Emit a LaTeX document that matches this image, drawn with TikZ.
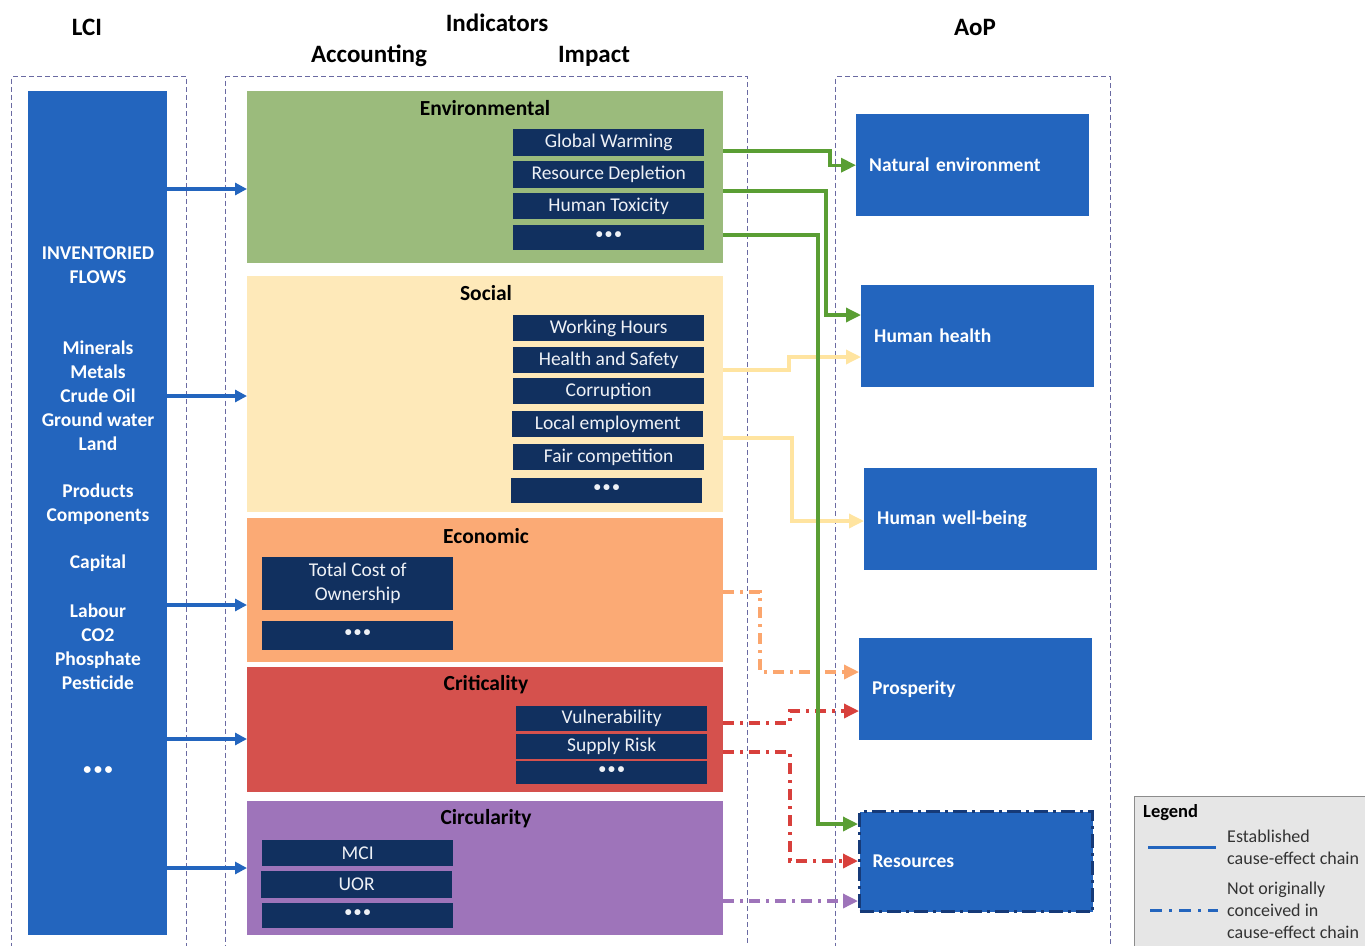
\documentclass[tikz,border=0pt]{standalone}
\usepackage{fontspec}
\setmainfont{Carlito}
\usetikzlibrary{arrows.meta,calc}
\definecolor{lciblue}{HTML}{2365BE}
\definecolor{navy}{HTML}{11305F}
\definecolor{itemtxt}{HTML}{EEF1F6}
\definecolor{envg}{HTML}{9BBB7C}
\definecolor{socy}{HTML}{FEE9B9}
\definecolor{ecoo}{HTML}{FBAA75}
\definecolor{critr}{HTML}{D5514D}
\definecolor{circp}{HTML}{9E74BA}
\definecolor{lineg}{HTML}{5A9E34}
\definecolor{liney}{HTML}{FFE4A0}
\definecolor{lineo}{HTML}{FBA66E}
\definecolor{liner}{HTML}{D8403C}
\definecolor{linep}{HTML}{9E74BA}
\definecolor{contdash}{HTML}{6A6AA2}
\definecolor{resborder}{HTML}{163A78}
\definecolor{leggray}{HTML}{E6E6E6}
\definecolor{legborder}{HTML}{8C8C8C}
\begin{document}
\begin{tikzpicture}[x=1pt,y=-1pt,
  heading/.style={font=\fontsize{25}{30}\selectfont\bfseries, inner sep=0},
  container/.style={draw=contdash, dash pattern=on 5pt off 3pt, line width=1pt, anchor=north west, inner sep=0},
  cat/.style={anchor=north west, inner sep=0, minimum width=476pt},
  cattitle/.style={font=\fontsize{21.5}{24}\selectfont\bfseries, inner sep=0},
  item/.style={fill=navy, text=itemtxt, anchor=north west, inner sep=0, minimum width=191pt, align=center, font=\fontsize{19.5}{24}\selectfont},
  dots/.style={item, font=\fontsize{14}{14}\selectfont\bfseries},
  lcitext/.style={text=white, align=center, inner sep=0, font=\fontsize{19.5}{24}\selectfont\bfseries},
  aop/.style={fill=lciblue, text=white, anchor=north west, inner xsep=13pt, inner ysep=0, minimum width=233pt, minimum height=102pt, text width=207pt, align=left, font=\fontsize{19.5}{24}\selectfont\bfseries},
  blarrow/.style={draw=lciblue, line width=3.2pt, -{Triangle[length=12pt,width=12pt]}},
  conn/.style={line width=3.4pt, -{Triangle[length=15pt,width=14pt]}},
  dashdot/.style={dash pattern=on 11pt off 6pt on 3pt off 6pt},
  legtext/.style={font=\fontsize{18}{22}\selectfont, align=left, anchor=west, inner sep=0, text=black!80}
]
\useasboundingbox (0,0) rectangle (1365,945);

% headings
\node[heading] (hlci) at (87,27) {LCI};
\node[heading] (hind) at (497,23) {Indicators};
\node[heading] (hacc) at (369,56) {Accounting};
\node[heading] (himp) at (594,56) {Impact};
\node[heading] (haop) at (975,27) {AoP};

% dashed containers
\node[container, minimum width=175pt, minimum height=880pt] (clci) at (11,76) {};
\node[container, minimum width=522pt, minimum height=880pt] (cind) at (225,76) {};
\node[container, minimum width=275pt, minimum height=880pt] (caop) at (835,76) {};

% LCI box
\node[fill=lciblue, anchor=north west, inner sep=0, minimum width=139pt, minimum height=844pt] (lci) at (28,91) {};
\node[lcitext] (l1) at (98,265) {INVENTORIED\\FLOWS};
\node[lcitext] (l2) at (98,396) {Minerals\\Metals\\Crude Oil\\Ground water\\Land};
\node[lcitext] (l3) at (98,504) {Products\\Components};
\node[lcitext] (l4) at (98,563) {Capital};
\node[lcitext] (l5) at (98,647) {Labour\\CO2\\Phosphate\\Pesticide};
\node[lcitext, font=\fontsize{16}{16}\selectfont\bfseries] (l6) at (98,771) {•\,•\,•};

% categories
\node[cat, fill=envg, minimum height=172pt] (env) at (247,91) {};
\node[cattitle] (envt) at (485,108) {Environmental};
\node[cat, fill=socy, minimum height=236pt] (soc) at (247,276) {};
\node[cattitle] (soct) at (486,293) {Social};
\node[cat, fill=ecoo, minimum height=144pt] (eco) at (247,518) {};
\node[cattitle] (ecot) at (486,536) {Economic};
\node[cat, fill=critr, minimum height=125pt] (crit) at (247,667) {};
\node[cattitle] (critt) at (486,685) {Criticality};
\node[cat, fill=circp, minimum height=134pt] (circ) at (247,801) {};
\node[cattitle] (circt) at (486,819) {Circularity};

% environmental items
\node[item, minimum height=27pt] (gw) at (513,129) {Global Warming};
\node[item, minimum height=27pt] (rd) at (513,161) {Resource Depletion};
\node[item, minimum height=26pt] (ht) at (513,193) {Human Toxicity};
\node[dots, minimum height=25pt] (envd) at (513,225) {\raisebox{5pt}{•\,•\,•}};
% social items
\node[item, minimum height=26pt] (wh) at (513,315) {Working Hours};
\node[item, minimum height=26pt] (hs) at (513,347) {Health and Safety};
\node[item, minimum height=26pt] (co) at (513,378) {Corruption};
\node[item, minimum height=26pt] (le) at (512,411) {Local employment};
\node[item, minimum height=26pt] (fc) at (513,444) {Fair competition};
\node[dots, minimum height=25pt] (socd) at (511,478) {\raisebox{5pt}{•\,•\,•}};
% economic items
\node[item, minimum height=53pt] (tco) at (262,557) {Total Cost of\\Ownership};
\node[dots, minimum height=29pt] (ecod) at (262,621) {\raisebox{5pt}{•\,•\,•}};
% criticality items
\node[item, minimum height=25pt] (vu) at (516,706) {Vulnerability};
\node[item, minimum height=25pt] (sr) at (516,734) {Supply Risk};
\node[dots, minimum height=23pt] (critd) at (516,761) {\raisebox{5pt}{•\,•\,•}};
% circularity items
\node[item, minimum height=26pt] (mci) at (262,840) {MCI};
\node[item, minimum height=27pt] (uor) at (261,871) {UOR};
\node[dots, minimum height=25pt] (circd) at (262,903) {\raisebox{5pt}{•\,•\,•}};

% AoP boxes
\node[aop] (natenv) at (856,114) {Natural environment};
\node[aop] (hh) at (861,285) {Human health};
\node[aop] (hwb) at (864,468) {Human well-being};
\node[aop] (pros) at (859,638) {Prosperity};
\node[aop, minimum height=100pt, draw=resborder, line width=3pt, dash pattern=on 14pt off 5pt on 3pt off 5pt] (res) at (858,810) {Resources};

% LCI arrows
\draw[blarrow] (lci.east |- 0,189) -- (env.west |- 0,189);
\draw[blarrow] (lci.east |- 0,396) -- (soc.west |- 0,396);
\draw[blarrow] (lci.east |- 0,605) -- (eco.west |- 0,605);
\draw[blarrow] (lci.east |- 0,739) -- (crit.west |- 0,739);
\draw[blarrow] (lci.east |- 0,868) -- (circ.west |- 0,868);

% social connectors
\draw[conn, draw=liney] (soc.east |- 0,370) -- (789,370) |- (hh.west |- 0,357);
\draw[conn, draw=liney] (soc.east |- 0,438) -- (792,438) |- (hwb.west |- 0,521);
% economic
\draw[conn, dashdot, draw=lineo] (eco.east |- 0,592) -- (760,592) |- (pros.west |- 0,672);
% criticality
\draw[conn, dashdot, draw=liner] (crit.east |- 0,723) -- (790,723) |- (pros.west |- 0,711);
\draw[conn, dashdot, draw=liner] (crit.east |- 0,752) -- (790,752) |- (res.west |- 0,861);
% circularity
\draw[conn, dashdot, draw=linep] (circ.east |- 0,901) -- (res.west |- 0,901);
% environmental
\draw[conn, draw=lineg] (env.east |- 0,151) -- (830,151) |- (natenv.west);
\draw[conn, draw=lineg] (env.east |- 0,191) -- (826,191) |- (hh.west |- 0,315);
\draw[conn, draw=lineg] (env.east |- 0,235) -- (818,235) |- (res.west |- 0,824);

% legend
\node[fill=leggray, draw=legborder, line width=1.2pt, anchor=north west, inner sep=0, minimum width=240pt, minimum height=160pt] (leg) at (1134,796) {};
\node[font=\fontsize{18.5}{22}\selectfont\bfseries, anchor=west, inner sep=0] (legt) at (1143,813) {Legend};
\coordinate (ls1) at (1148,847);
\coordinate (le1) at (1216,847);
\draw[draw=lciblue, line width=3pt] (ls1) -- (le1);
\node[legtext] (lt1) at (1227,847) {Established\\cause-effect chain};
\coordinate (ls2) at (1150,910);
\coordinate (le2) at (1218,910);
\draw[draw=lciblue, line width=3pt, dash pattern=on 12pt off 7pt on 3pt off 7pt] (ls2) -- (le2);
\node[legtext] (lt2) at (1227,910) {Not originally\\conceived in\\cause-effect chain};
\end{tikzpicture}
\end{document}
